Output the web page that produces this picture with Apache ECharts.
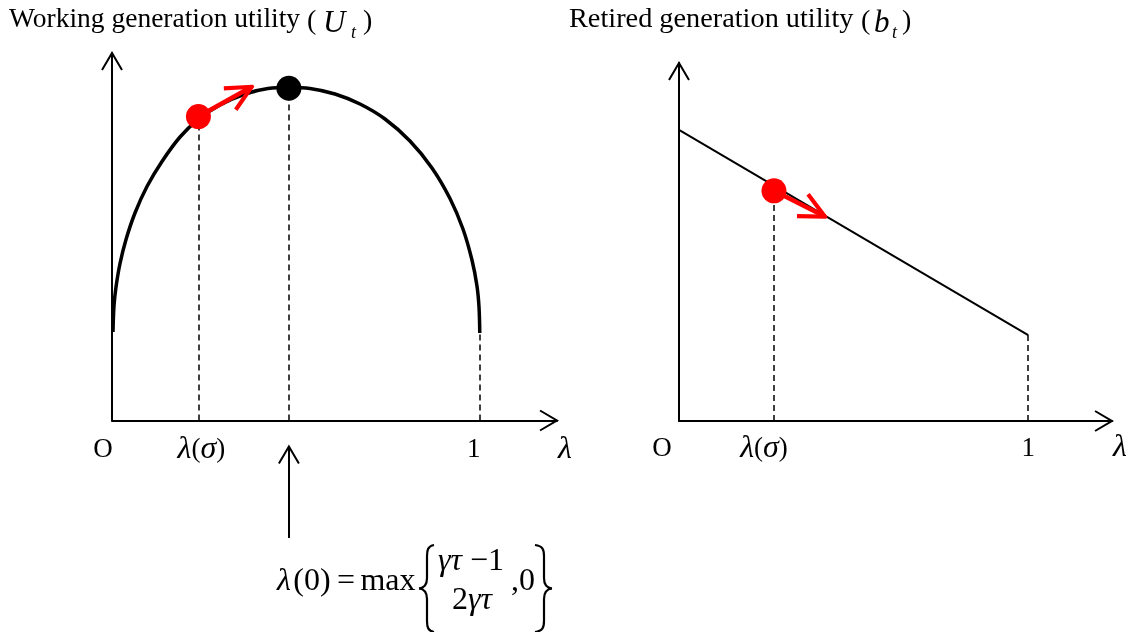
<!DOCTYPE html>
<html>
<head>
<meta charset="utf-8">
<script src="https://cdn.jsdelivr.net/npm/echarts@6/dist/echarts.min.js"></script>
<style>
html,body{margin:0;padding:0;background:#fff;}
#chart{width:1135px;height:632px;}
</style>
</head>
<body>
<div id="chart"></div>
<script>
// ---------------- data ----------------
// Left panel: working generation utility U_t as a function of lambda
const uCurveX = [0.0027, 0.0054, 0.0109, 0.0218, 0.0381, 0.0625, 0.0951, 0.1359, 0.1849, 0.2338, 0.2936, 0.3617, 0.4242, 0.4812,
                 0.5383, 0.6063, 0.6743, 0.7423, 0.8102, 0.8700, 0.9190, 0.9543, 0.9788, 0.9924, 0.9980, 1.0000];
const uCurveY = [0.2408, 0.3116, 0.3633, 0.4272, 0.4925, 0.5646, 0.6367, 0.7048, 0.7714, 0.8190, 0.8585, 0.8884, 0.9034, 0.9061,
                 0.9034, 0.8884, 0.8612, 0.8204, 0.7605, 0.6871, 0.6041, 0.5211, 0.4367, 0.3660, 0.3075, 0.2381];
const uSigmaPoint = [0.235, 0.827];   // red point at lambda(sigma)
const uPeakPoint = [0.481, 0.904];    // black point at lambda(0)
const uArrowTo = [0.380, 0.908];      // head of red arrow
const uDropX = [0.235, 0.481, 1.000];
const uDropTop = [0.827, 0.904, 0.238];
const uTickLabels = ['O', 'λ(σ)', '1', 'λ'];
const uTickValues = [0, 0.235, 1, 1.21];
const calloutFrom = [0.481, -0.320];  // arrow pointing at lambda(0)
const calloutTo = [0.481, -0.071];

// Right panel: retired generation utility b_t as a function of lambda
const bLineX = [0, 1];
const bLineY = [0.813, 0.240];
const bSigmaPoint = [0.272, 0.643];
const bArrowTo = [0.418, 0.571];
const bDropX = [0.272, 1.000];
const bDropTop = [0.643, 0.240];
const bTickLabels = ['O', 'λ(σ)', '1', 'λ'];
const bTickValues = [0, 0.272, 1, 1.24];

// ---------------- styles ----------------
const FONT = '"Liberation Serif","Times New Roman",serif';
const RED = '#ff0000';
// open chevron heads (tip placed at the symbol centre)
const THIN_HEAD = 'path://M50,12.46 M50,90.13 L104.31,182.46 L95.69,187.54 L50,109.87 L4.31,187.54 L-4.31,182.46 Z';
const THIN_HEAD_SIZE = [21.7, 35];
const RED_HEAD = 'path://M0,-93.14 M-4.33,-8 L4.33,-8 L50.45,86.66 L37.15,93.14 L0,16.9 L-37.15,93.14 L-50.45,86.66 Z';
const RED_HEAD_SIZE = [28.2, 52.1];
const uLabelOffsets = [[-9, 29.5], [3, 29.5], [-6, 29], [8, 29]];
const bLabelOffsets = [[-17, 28], [-10, 28], [0, 27.5], [8, 27]];

function richLabel(s) { return s.replace(/([λσ])/g, '{i|$1}'); }

function axisPair(grid, xmax) {
  const common = {
    type: 'value', gridIndex: grid, min: 0,
    axisTick: {show: false}, axisLabel: {show: false}, splitLine: {show: false},
    axisLine: {show: true, onZero: false, lineStyle: {color: '#000', width: 2},
      symbol: ['none', THIN_HEAD], symbolSize: THIN_HEAD_SIZE}
  };
  return [Object.assign({}, common, {max: xmax}), Object.assign({}, common, {max: 1})];
}
const ax0 = axisPair(0, 1.21);
const ax1 = axisPair(1, 1.24);

function labelSeries(idx, labels, values, offsets) {
  return {
    type: 'scatter', xAxisIndex: idx, yAxisIndex: idx, symbolSize: 0, silent: true, clip: false, z: 5,
    itemStyle: {color: '#000', opacity: 1},
    data: values.map((v, i) => ({value: [v, 0], label: {offset: offsets[i]}})),
    label: {
      show: true, position: 'inside', color: '#000', opacity: 1, fontFamily: FONT, fontSize: 27,
      textBorderWidth: 0, textBorderColor: 'transparent',
      formatter: p => richLabel(labels[p.dataIndex]),
      rich: {i: {fontStyle: 'italic', fontFamily: FONT, fontSize: 32, color: '#000', opacity: 1,
                 textBorderWidth: 0, textBorderColor: 'transparent'}}
    }
  };
}
function dropSeries(idx, xs, tops) {
  return {
    type: 'lines', coordinateSystem: 'cartesian2d', xAxisIndex: idx, yAxisIndex: idx, silent: true, clip: false, z: 1,
    data: xs.map((x, i) => ({coords: [[x, 0], [x, tops[i]]]})),
    lineStyle: {color: '#000', width: 1.5, type: [6, 4], opacity: 1}
  };
}
function arrowSeries(idx, from, to, color, width, head, size) {
  return {
    type: 'lines', coordinateSystem: 'cartesian2d', xAxisIndex: idx, yAxisIndex: idx, silent: true, clip: false, z: 3,
    data: [{coords: [from, to]}],
    symbol: ['none', head], symbolSize: [0, size],
    itemStyle: {color: color},
    lineStyle: {color: color, width: width, opacity: 1, curveness: 0}
  };
}
function dotSeries(idx, pt, color) {
  return {type: 'scatter', xAxisIndex: idx, yAxisIndex: idx, silent: true, z: 4, symbolSize: 25,
    data: [pt], itemStyle: {color: color, opacity: 1}};
}
function txt(str, x, y, size, italic, align, rich) {
  const font = (italic ? 'italic ' : '') + size + 'px ' + FONT;
  const st = {text: str, font: font, fill: '#000', textAlign: align || 'left', textVerticalAlign: 'middle',
      align: align || 'left', verticalAlign: 'middle'};
  if (rich) st.rich = rich;
  return {type: 'text', x: x, y: y, silent: true, style: st};
}
const FRICH = {i: {fontStyle: 'italic', fontSize: 32, fontFamily: FONT, font: 'italic 32px ' + FONT, fill: '#000', color: '#000'}};
// curly brace drawn from bezier pieces; s = +1 for '{', -1 for '}'
function brace(xo, xs, top, mid, bot, s) {
  const st = {stroke: '#000', lineWidth: 2.2, fill: null};
  const xt = xs - s * 8;   // tip
  const bz = (x1, y1, c1x, c1y, c2x, c2y, x2, y2) => ({type: 'bezierCurve', silent: true,
    shape: {x1: x1, y1: y1, cpx1: c1x, cpy1: c1y, cpx2: c2x, cpy2: c2y, x2: x2, y2: y2}, style: st});
  const ln = (x1, y1, x2, y2) => ({type: 'line', silent: true, shape: {x1: x1, y1: y1, x2: x2, y2: y2}, style: st});
  return [
    bz(xo, top, xs + s * 1, top + 1, xs, top + 5, xs, top + 11),
    ln(xs, top + 11, xs, mid - 10.5),
    bz(xs, mid - 10.5, xs, mid - 3.5, xs - s * 3, mid - 0.5, xt, mid),
    bz(xt, mid, xs - s * 3, mid + 0.5, xs, mid + 3.5, xs, mid + 10.5),
    ln(xs, mid + 10.5, xs, bot - 11),
    bz(xs, bot - 11, xs, bot - 5, xs + s * 1, bot - 1, xo, bot)
  ];
}

const option = {
  animation: false,
  backgroundColor: '#fff',
  grid: [
    {left: 112, top: 53, width: 445, height: 367.5, outerBoundsMode: 'none', containLabel: false},
    {left: 679, top: 63, width: 433, height: 358, outerBoundsMode: 'none', containLabel: false}
  ],
  xAxis: [ax0[0], ax1[0]],
  yAxis: [ax0[1], ax1[1]],
  series: [
    // left panel
    {type: 'line', xAxisIndex: 0, yAxisIndex: 0, silent: true, z: 2, clip: false,
      data: uCurveX.map((x, i) => [x, uCurveY[i]]), smooth: 0.35, symbol: 'none', showSymbol: false,
      lineStyle: {color: '#000', width: 3.5}},
    dropSeries(0, uDropX, uDropTop),
    arrowSeries(0, uSigmaPoint, uArrowTo, RED, 4.5, RED_HEAD, RED_HEAD_SIZE),
    arrowSeries(0, calloutFrom, calloutTo, '#000', 2, THIN_HEAD, THIN_HEAD_SIZE),
    dotSeries(0, uSigmaPoint, RED),
    dotSeries(0, uPeakPoint, '#000'),
    labelSeries(0, uTickLabels, uTickValues, uLabelOffsets),
    // right panel
    {type: 'line', xAxisIndex: 1, yAxisIndex: 1, silent: true, z: 2, clip: false,
      data: bLineX.map((x, i) => [x, bLineY[i]]), symbol: 'none', showSymbol: false,
      lineStyle: {color: '#000', width: 2}},
    dropSeries(1, bDropX, bDropTop),
    arrowSeries(1, bSigmaPoint, bArrowTo, RED, 4.5, RED_HEAD, RED_HEAD_SIZE),
    dotSeries(1, bSigmaPoint, RED),
    labelSeries(1, bTickLabels, bTickValues, bLabelOffsets)
  ],
  graphic: [
    txt('Working generation utility', 9, 19.5, 27.5, false),
    txt('(', 307, 22, 28, false),
    txt('U', 323, 24, 31, true),
    txt('t', 351, 33.5, 18, true),
    txt(')', 363, 22, 28, false),
    txt('Retired generation utility', 569, 19.5, 28.3, false),
    txt('(', 861, 22, 28, false),
    txt('b', 874, 24, 31, true),
    txt('t', 892, 33.5, 18, true),
    txt(')', 902, 22, 28, false),
    // lambda(0) formula
    txt('λ', 284, 582, 32, true, 'center'),
    txt('(0)', 312, 582, 32, false, 'center'),
    txt('=', 346, 582, 32, false, 'center'),
    txt('max', 388, 582, 32, false, 'center'),
    txt('{i|γτ} −1', 471, 562, 32, false, 'center', FRICH),
    txt('2{i|γτ}', 472, 601, 32, false, 'center', FRICH),
    txt(',0', 523, 582, 32, false, 'center')
  ].concat(brace(434, 427, 545, 588.5, 632, 1), brace(535, 544, 545, 588.5, 632, -1))
};

const chart = echarts.init(document.getElementById('chart'));
chart.setOption(option);
</script>
</body>
</html>
